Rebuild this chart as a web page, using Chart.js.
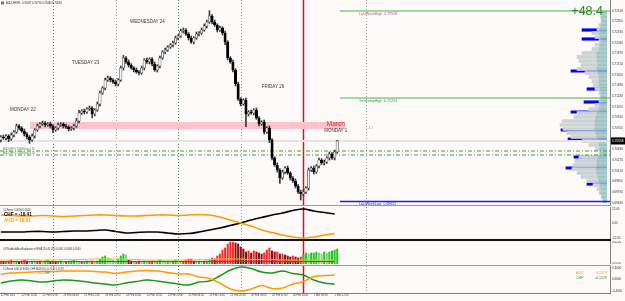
<!DOCTYPE html>
<html>
<head>
<meta charset="utf-8">
<script src="https://cdn.jsdelivr.net/npm/chart.js@4.4.1/dist/chart.umd.min.js"></script>
<style>
html, body { margin: 0; padding: 0; background: #fffafa; }
#wrap { position: relative; width: 625px; height: 301px; overflow: hidden; background: #fffafa; }
canvas { position: absolute; left: 0; }
.hl { position: absolute; left: 0; width: 611px; }
</style>
</head>
<body>
<div id="wrap">
  <canvas id="profile" width="62" height="205" style="top:0;left:545px"></canvas>
  <canvas id="main" width="625" height="205" style="top:0"></canvas>
  <canvas id="ccf" width="625" height="33" style="top:207px"></canvas>
  <canvas id="wae" width="625" height="23" style="top:241px"></canvas>
  <canvas id="ccf2" width="625" height="35" style="top:266px"></canvas>
  <div class="hl" style="top:205px;height:1px;background:#9a9a9a"></div>
  <div class="hl" style="top:239px;height:2px;background:#111"></div>
  <div class="hl" style="top:265px;height:1px;background:#9a9a9a"></div>
</div>
<script>
// hours counted from 22 Feb 2021 00:00, weekend skipped (1 Mar 00:00 = 120)
const X_MIN = 3.68, X_MAX = 237.6;
const Y_MIN = 0.69598, Y_MAX = 0.72673;
const PIP = 0.0001;

// ---- AUDCHF H1 candles ----
const firstOpen = 0.70573;
const closes = [
  0.70618,0.70603,0.70633,0.70588,0.70648,0.70693,0.70783,0.70753,0.70708,0.70663,
  0.70618,0.70573,0.70633,0.70723,0.70783,0.70813,0.70828,0.70798,0.70813,0.70783,
  0.70723,0.70753,0.70798,0.70813,0.70783,0.70768,0.70738,0.70753,0.70783,0.70858,
  0.70978,0.71008,0.70993,0.71038,0.71053,0.70963,0.71023,0.71113,0.71278,0.71353,
  0.71473,0.71503,0.71473,0.71443,0.71413,0.71473,0.71653,0.71803,0.71743,0.71698,
  0.71653,0.71623,0.71593,0.71578,0.71653,0.71773,0.71743,0.71788,0.71713,0.71623,
  0.71683,0.71803,0.71893,0.71923,0.71968,0.71998,0.72028,0.72103,0.72133,0.72208,
  0.72223,0.72163,0.72103,0.72043,0.72103,0.72163,0.72178,0.72223,0.72283,0.72343,
  0.72433,0.72343,0.72298,0.72223,0.72253,0.72178,0.72043,0.71803,0.71743,0.71623,
  0.71413,0.71188,0.71113,0.71173,0.70963,0.70993,0.70978,0.71023,0.70903,0.70813,
  0.70843,0.70693,0.70753,0.70573,0.70303,0.70198,0.70123,0.70003,0.70093,0.70153,
  0.70078,0.70003,0.69958,0.69883,0.69793,0.69763,0.69793,0.69853,0.70123,0.70153,
  0.70093,0.70183,0.70273,0.70228,0.70243,0.70303,0.70363,0.70303,0.70393,0.70558
];
const upWick = [
  2,3,2,2,3,2,3,2,2,3, 2,2,3,2,3,2,3,2,2,3, 2,2,3,2,2,3,2,2,3,4,
  4,2,3,2,3,2,2,3,3,2, 3,3,2,2,3,2,3,4,2,3, 2,2,3,2,3,2,3,2,2,3,
  2,3,2,3,2,2,3,3,2,3, 3,2,2,3,2,3,2,3,3,3, 8,2,3,2,3,2,3,2,2,3,
  2,3,2,2,3,2,3,2,3,2, 2,3,2,3,2,2,3,2,3,2, 3,2,2,3,2,3,3,2,3,2,
  3,2,3,2,3,2,3,2,3,1
];
const downWick = [
  3,2,3,4,2,3,2,3,2,3, 3,5,2,3,2,3,2,3,2,3, 4,2,3,2,3,2,3,2,3,2,
  3,2,3,2,2,6,3,2,3,2, 3,2,3,2,3,3,2,3,2,3, 2,3,2,3,2,3,2,3,3,2,
  3,3,2,3,2,2,3,2,3,2, 3,2,3,2,3,2,3,2,2,3, 2,3,2,3,2,3,4,3,2,3,
  3,2,3,2,19,3,2,3,2,3, 2,3,2,4,3,2,3,8,2,3, 2,3,2,3,2,9,3,2,3,2,
  3,2,3,2,3,2,3,2,3,2
];

const priceTicks = [0.7251,0.7235,0.7219,0.7203,0.7187,0.7171,0.7155,0.7139,0.7123,0.7107,
  0.7091,0.7075,0.7059,0.7043,0.7027,0.7011,0.6995,0.6979,0.6963];

const lastWeekHigh = 0.72508, yesterdayHigh = 0.71203, lastWeekLow = 0.69652;
const bandTop = 0.70843, bandBottom = 0.70738;
const orderLevels = [0.70408, 0.70348];

// ---- volume profile ----
const profileLevels = [
  0.72478,0.72418,0.72358,0.72298,0.72238,0.72178,0.72118,0.72058,0.71998,0.71938,
  0.71878,0.71818,0.71758,0.71698,0.71638,0.71578,0.71518,0.71458,0.71398,0.71338,
  0.71278,0.71218,0.71158,0.71098,0.71038,0.70978,0.70918,0.70858,0.70798,0.70738,
  0.70678,0.70618,0.70558,0.70498,0.70438,0.70378,0.70318,0.70258,0.70198,0.70138,
  0.70078,0.70018,0.69958,0.69898,0.69838,0.69778,0.69718,0.69658
];
const profileNear = [5,6,5,6,7,8,7,6,7,8,10,10,10,9,10,9,8,8,8,7,6,6,6,7,8,10,11,12,12,12,11,10,9,8,7,6,9,10,10,11,10,9,8,7,6,6,5,4];
const profileFar = [0,0,1,2,3,7,5,2,5,7,15,20,18,17,20,13,10,7,6,5,2,1,2,5,10,20,22,33,35,32,29,26,16,10,5,2,19,22,24,24,20,17,12,7,4,2,1,0];
const pocLevels = [0.72223,0.72088,0.71608,0.71338,0.71143,0.70993,0.70723,0.70588,0.70318,0.70153,0.69913];
const pocSize = [25,25,36,20,23,36,46,39,33,41,20];

// ---- indicator series, sampled every 4 hours ----
const lineHours = [4,8,12,16,20,24,28,32,36,40,44,48,52,56,60,64,68,72,76,80,84,88,92,96,100,104,108,112,116,120,124,128,132];
const ccfAUD = [12.9,12.1,11.4,11.4,12.1,11.4,10.6,11.4,12.1,12.9,12.9,12.1,11.4,11.4,12.1,12.9,12.9,12.1,12.9,13.6,12.9,9.8,5.3,0.8,-3.8,-9.8,-13.6,-17.4,-20.5,-22.0,-20.5,-17.4,-15.2];
const ccfCHF = [-12.9,-12.9,-12.9,-12.1,-12.1,-12.9,-12.1,-11.4,-11.4,-10.6,-9.8,-12.1,-14.4,-13.6,-12.9,-12.9,-14.4,-15.9,-15.2,-12.9,-9.8,-6.8,-3.0,0.8,5.3,9.1,12.9,15.9,19.7,22.0,18.9,16.7,14.4];
const momAUD = [0.191,0.226,0.244,0.261,0.278,0.278,0.296,0.296,0.296,0.278,0.261,0.209,0.261,0.296,0.313,0.296,0.244,0.191,0.191,0.087,0.035,-0.122,-0.331,-0.400,-0.331,-0.209,-0.313,-0.296,-0.157,-0.070,0.104,0.139,0.157];
const momCHF = [-0.122,-0.052,-0.017,-0.052,-0.087,-0.052,-0.017,-0.035,-0.070,-0.122,-0.157,-0.191,-0.122,-0.070,-0.017,-0.052,-0.104,-0.157,-0.191,-0.087,-0.052,0.122,0.331,0.435,0.383,0.261,0.226,0.296,0.209,0.157,-0.017,-0.122,-0.157];

// Waddah Attar explosion, per H1 bar, x0.001; sign = trend direction
const explosion = [
  -3,-2,2,-3,-4,2,3,-2,-3,-4, -3,2,3,2,-2,-3,2,3,4,-2, -3,-2,2,3,2,-2,2,3,4,3,
  2,-2,2,3,2,-3,2,3,5,7, 8,6,5,4,3,5,8,10,9,-4, -3,2,-2,-3,2,3,2,-2,-3,2,
  3,4,3,2,3,2,3,4,3,2, -3,-4,-5,-5,-3,2,3,2,-3,3, 4,-6,-5,-8,-10,-14,-16,-20,-22,-22,
  -21,-20,-17,-15,-12,-13,-11,-13,-12,-11, -10,-11,-14,-16,-13,-12,-12,-10,-10,-9,
  -8,-7,-8,-7,-6,-7,9,11,10,11, 11,12,11,10,12,11,12,13,14,15
];
const explosionLine = [4,4,4.5,4.5,4,4,4.5,4.5,4.5,5,5,5,4.5,4.5,4,4,4,4,4,4.5,4.5,5,5,5,4.5,4.5,4.5,4,4,4,4,4,4];
const deadZone = [2.5,2.5,2.5,2.5,2.5,2.5,2.5,2.5,2.5,2.5,2.5,2.5,2.5,2.5,2.5,2.5,2.5,2.5,2.5,2.5,2.5,2.5,2.5,2.5,2.5,2.5,2.5,2.5,2.5,2.5,2.5,2.5,2.5];

const timeTickHours = [4,12,20,28,36,44,52,60,68,76,84,92,100,108,116,124,132];
const timeLabels = ['22 Feb 2021','22 Feb 12:00','22 Feb 20:00','23 Feb 04:00','23 Feb 12:00','23 Feb 20:00',
  '24 Feb 04:00','24 Feb 12:00','24 Feb 20:00','25 Feb 04:00','25 Feb 12:00','25 Feb 20:00',
  '26 Feb 04:00','26 Feb 12:00','26 Feb 20:00','1 Mar 04:00','1 Mar 12:00'];

const dayNotes = [
  { text: 'MONDAY 22', hour: 7.5, price: 0.71023 },
  { text: 'TUESDAY 23', hour: 31.3, price: 0.71728 },
  { text: 'WEDNESDAY 24', hour: 53.5, price: 0.72343 },
  { text: 'FRIDAY 26', hour: 104.1, price: 0.71368 },
  { text: 'MONDAY 1', hour: 128, price: 0.70718 }
];

const separators = [
  { hour: 24, color: '#3c9c3c', dash: [1, 2] },
  { hour: 48, color: '#a0a0a0', dash: [1, 2] },
  { hour: 72, color: '#3c9c3c', dash: [1, 2] },
  { hour: 96, color: '#a0a0a0', dash: [1, 2] },
  { hour: 120, color: '#e01010', dash: [], width: 1.5 },
  { hour: 144, color: '#a0a0a0', dash: [1, 2] }
];

// ---- build candles ----
const barHours = closes.map((c, i) => 4 + i);
const opens = closes.map((c, i) => i === 0 ? firstOpen : closes[i - 1]);
const highs = closes.map((c, i) => Math.max(opens[i], c) + upWick[i] * PIP);
const lows = closes.map((c, i) => Math.min(opens[i], c) - downWick[i] * PIP);
const lastPrice = closes[closes.length - 1];
const isBull = closes.map((c, i) => c >= opens[i]);

Chart.defaults.font.family = '"Liberation Sans", Arial, sans-serif';
Chart.defaults.animation = false;
Chart.defaults.responsive = false;
Chart.defaults.events = [];
Chart.defaults.plugins.legend.display = false;
Chart.defaults.plugins.tooltip.enabled = false;

function timeAxis() {
  return { type: 'linear', min: X_MIN, max: X_MAX, display: false, offset: false, grid: { offset: false } };
}

function rightAxis(min, max, ticks, fmt) {
  return {
    type: 'linear', position: 'right', min: min, max: max,
    grid: { display: false, drawTicks: false },
    border: { display: true, color: '#808080', width: 1 },
    ticks: { font: { size: 3 }, color: '#333', padding: 2, autoSkip: false, callback: fmt },
    afterBuildTicks: s => { s.ticks = ticks.map(v => ({ value: v })); },
    afterFit: s => { s.width = 15; s.paddingTop = 0; s.paddingBottom = 0; }
  };
}

const sepPlugin = {
  id: 'sep',
  beforeDatasetsDraw(chart) {
    const { ctx, chartArea: a } = chart;
    const x = chart.scales.x;
    ctx.save();
    separators.forEach(s => {
      const px = Math.round(x.getPixelForValue(s.hour)) + 0.5;
      ctx.strokeStyle = s.color;
      ctx.lineWidth = s.width || 1;
      ctx.setLineDash(s.dash);
      ctx.beginPath();
      ctx.moveTo(px, a.top);
      ctx.lineTo(px, a.bottom);
      ctx.stroke();
    });
    ctx.restore();
  }
};

function text(ctx, str, x, y, size, color, opts) {
  opts = opts || {};
  ctx.font = (opts.bold ? 'bold ' : '') + size + 'px "Liberation Sans", Arial, sans-serif';
  ctx.fillStyle = color;
  ctx.textAlign = opts.align || 'left';
  ctx.textBaseline = 'middle';
  ctx.fillText(str, x, y);
}

const mainDecor = {
  id: 'mainDecor',
  beforeDatasetsDraw(chart) {
    const { ctx } = chart;
    const x = chart.scales.x, y = chart.scales.y;
    ctx.save();
    ctx.fillStyle = '#ffc2cc';
    const x0 = x.getPixelForValue(15.2), x1 = x.getPixelForValue(136);
    const y0 = y.getPixelForValue(bandTop), y1 = y.getPixelForValue(bandBottom);
    ctx.fillRect(x0, y0, x1 - x0, y1 - y0);
    ctx.restore();
  },
  afterDatasetsDraw(chart) {
    const { ctx } = chart;
    const x = chart.scales.x, y = chart.scales.y;
    ctx.save();
    dayNotes.forEach(n => text(ctx, n.text, x.getPixelForValue(n.hour), y.getPixelForValue(n.price), 4.5, '#333'));
    text(ctx, 'March', x.getPixelForValue(129), y.getPixelForValue(0.70813), 6.5, '#e81818');
    text(ctx, '-1.1', x.getPixelForValue(144.5), y.getPixelForValue(0.70748), 3.5, '#999');
    const lx = x.getPixelForValue(141.3);
    text(ctx, 'LastWeekHigh  ' + lastWeekHigh.toFixed(5), lx, y.getPixelForValue(lastWeekHigh) + 3, 3.6, '#b0589c');
    text(ctx, 'YesterdayHigh  ' + yesterdayHigh.toFixed(5), lx, y.getPixelForValue(yesterdayHigh) + 3, 3.6, '#3a9c3a');
    text(ctx, 'LastWeekLow  ' + lastWeekLow.toFixed(5), lx, y.getPixelForValue(lastWeekLow) + 2.5, 3.6, '#2233bb');
    orderLevels.forEach(p => text(ctx, 'AUDCHF ' + p.toFixed(5) + ' buy 0.10', 3, y.getPixelForValue(p) - 2, 2.6, '#4a7a4a'));
    text(ctx, '+48.4', 603, 12, 12.5, '#1e8a1e', { align: 'right' });
    text(ctx, 'AUDCHF,H1  0.70487 0.70714 0.70460 ' + lastPrice.toFixed(5), 6, 3, 2.6, '#222');
    ctx.fillStyle = '#777';
    ctx.fillRect(1, 1.5, 3, 3);
    // current price box on the axis
    const py = y.getPixelForValue(lastPrice);
    ctx.fillStyle = '#000';
    ctx.fillRect(611, py - 3.5, 14, 7);
    text(ctx, lastPrice.toFixed(5), 612, py, 3.2, '#fff');
    ctx.restore();
  }
};

function hline(price, from, color, width, dash, order) {
  return {
    type: 'line',
    data: [{ x: from, y: price }, { x: X_MAX, y: price }],
    borderColor: color, borderWidth: width, borderDash: dash || [],
    pointRadius: 0, order: order
  };
}

new Chart(document.getElementById('main'), {
  type: 'bar',
  data: {
    datasets: [
      hline(lastPrice, X_MIN, '#e4e4e4', 2, [], 10),
      hline(orderLevels[0], X_MIN, '#3e9a3e', 1, [4, 2, 1, 2], 9),
      hline(orderLevels[1], X_MIN, '#3e9a3e', 1, [4, 2, 1, 2], 9),
      {
        type: 'bar',
        data: barHours.map((h, i) => ({ x: h, y: [lows[i], highs[i]] })),
        backgroundColor: '#3a3a3a', barThickness: 1, grouped: false, order: 5
      },
      {
        type: 'bar',
        data: barHours.map((h, i) => ({ x: h, y: [opens[i], closes[i]] })),
        backgroundColor: isBull.map(b => b ? '#f4f4f4' : '#000000'),
        borderColor: isBull.map(b => b ? '#3a3a3a' : '#000000'),
        borderWidth: 0.6, borderSkipped: false,
        barThickness: 2.4, grouped: false, minBarLength: 1, order: 4
      },
      hline(lastWeekHigh, 134, '#40b840', 1, [], 1),
      hline(yesterdayHigh, 134, '#40b840', 1, [], 1),
      hline(lastWeekLow, 134, '#1a1aff', 1.5, [], 1)
    ]
  },
  options: {
    layout: { padding: 0 },
    scales: {
      x: timeAxis(),
      y: rightAxis(Y_MIN, Y_MAX, priceTicks, v => v.toFixed(5))
    }
  },
  plugins: [sepPlugin, mainDecor]
});

new Chart(document.getElementById('profile'), {
  type: 'bar',
  data: {
    datasets: [
      { data: profileLevels.map((p, i) => ({ y: p, x: profileNear[i] })), backgroundColor: '#9ec4c4', stack: 'vol', barThickness: 3, grouped: false },
      { data: profileLevels.map((p, i) => ({ y: p, x: profileFar[i] })), backgroundColor: '#cdd2d2', stack: 'vol', barThickness: 3, grouped: false },
      { data: pocLevels.map((p, i) => ({ y: p, x: pocSize[i] })), backgroundColor: '#0000ff', stack: 'poc', barThickness: 2.5, grouped: false }
    ]
  },
  options: {
    indexAxis: 'y',
    layout: { padding: 0 },
    scales: {
      x: { type: 'linear', reverse: true, min: 0, max: 62, stacked: true, display: false },
      y: { type: 'linear', min: Y_MIN, max: Y_MAX, display: false, offset: false, grid: { offset: false } }
    }
  }
});

function seriesLine(values, color, width) {
  return {
    type: 'line',
    data: lineHours.map((h, i) => ({ x: h, y: values[i] })),
    borderColor: color, borderWidth: width, pointRadius: 0, tension: 0.35
  };
}

new Chart(document.getElementById('ccf'), {
  type: 'line',
  data: { datasets: [seriesLine(ccfAUD, '#ff9a00', 1.6), seriesLine(ccfCHF, '#000', 1.6)] },
  options: {
    layout: { padding: 0 },
    scales: { x: timeAxis(), y: rightAxis(-25, 25, [22, 0, -22], v => v.toFixed(2)) }
  },
  plugins: [sepPlugin, {
    id: 'ccfText',
    afterDatasetsDraw(chart) {
      const { ctx } = chart;
      ctx.save();
      text(ctx, 'CCFwrm 0.0000 0.0000', 3, 3, 2.6, '#333');
      text(ctx, 'CHF = ' + (-18.41).toFixed(2), 4, 8, 4.6, '#000', { bold: true });
      text(ctx, 'AUD = ' + (18.31).toFixed(2), 4, 13.5, 4.6, '#ff9a00', { bold: true });
      ctx.restore();
    }
  }]
});

function waeColor(v, i) {
  const prev = i > 0 ? Math.abs(explosion[i - 1]) : 0;
  const rising = Math.abs(v) >= prev;
  if (v > 0) return rising ? '#22c822' : '#7ad67a';
  return rising ? '#ff2a2a' : '#8b1010';
}

new Chart(document.getElementById('wae'), {
  type: 'bar',
  data: {
    datasets: [
      {
        type: 'line', data: lineHours.map((h, i) => ({ x: h, y: explosionLine[i] })),
        borderColor: '#f0c020', borderWidth: 1, pointRadius: 0, tension: 0.3, order: 0
      },
      {
        type: 'line', data: lineHours.map((h, i) => ({ x: h, y: deadZone[i] })),
        borderColor: '#3050e0', borderWidth: 1, pointRadius: 0, order: 0
      },
      {
        type: 'bar', data: barHours.map((h, i) => ({ x: h, y: Math.abs(explosion[i]) })),
        backgroundColor: explosion.map(waeColor), barThickness: 1.4, grouped: false, order: 1
      }
    ]
  },
  options: {
    layout: { padding: 0 },
    scales: { x: timeAxis(), y: rightAxis(0, 23, [22, 0], v => (v / 1000).toFixed(4)) }
  },
  plugins: [sepPlugin, {
    id: 'waeText',
    afterDatasetsDraw(chart) {
      const { ctx } = chart;
      ctx.save();
      text(ctx, '#4 WaddahAttarExplosion of EMA (20,40,20) 0.0000 0.0008 0.0000', 3, 8, 2.6, '#333');
      ctx.restore();
    }
  }]
});

new Chart(document.getElementById('ccf2'), {
  type: 'line',
  data: { datasets: [seriesLine(momAUD, '#ff9a00', 1.5), seriesLine(momCHF, '#1e961e', 1.5)] },
  options: {
    layout: { padding: 0 },
    scales: {
      x: {
        type: 'linear', min: X_MIN, max: X_MAX, position: 'bottom', offset: false,
        grid: { display: false, drawTicks: false, offset: false },
        border: { display: true, color: '#808080', width: 1 },
        ticks: {
          font: { size: 2.6 }, color: '#444', padding: 1, align: 'start',
          maxRotation: 0, autoSkip: false, callback: (v, i) => timeLabels[i]
        },
        afterBuildTicks: s => { s.ticks = timeTickHours.map(v => ({ value: v })); },
        afterFit: s => { s.height = 8; s.paddingLeft = 0; s.paddingRight = 0; }
      },
      y: rightAxis(-0.47, 0.47, [0.4, 0, -0.4], v => v.toFixed(4))
    }
  },
  plugins: [sepPlugin, {
    id: 'ccf2Text',
    afterDatasetsDraw(chart) {
      const { ctx } = chart;
      ctx.save();
      text(ctx, 'CCFwrm 0.00 (0.3000) CHF AUD (6) ' + momCHF[32].toFixed(4) + ' ' + momAUD[32].toFixed(4), 3, 3, 2.6, '#333');
      text(ctx, 'AUD', 38, 7.5, 2.8, '#ff9a00');
      text(ctx, 'CHF', 44, 7.5, 2.8, '#1e961e');
      text(ctx, 'AUD', 576, 6.5, 3.6, '#ff9a00');
      text(ctx, '0.1579', 607, 6.5, 3.6, '#ff9a00', { align: 'right' });
      text(ctx, 'CHF', 576, 12, 3.6, '#1e961e');
      text(ctx, '-0.1579', 607, 12, 3.6, '#1e961e', { align: 'right' });
      ctx.restore();
    }
  }]
});
</script>
</body>
</html>
